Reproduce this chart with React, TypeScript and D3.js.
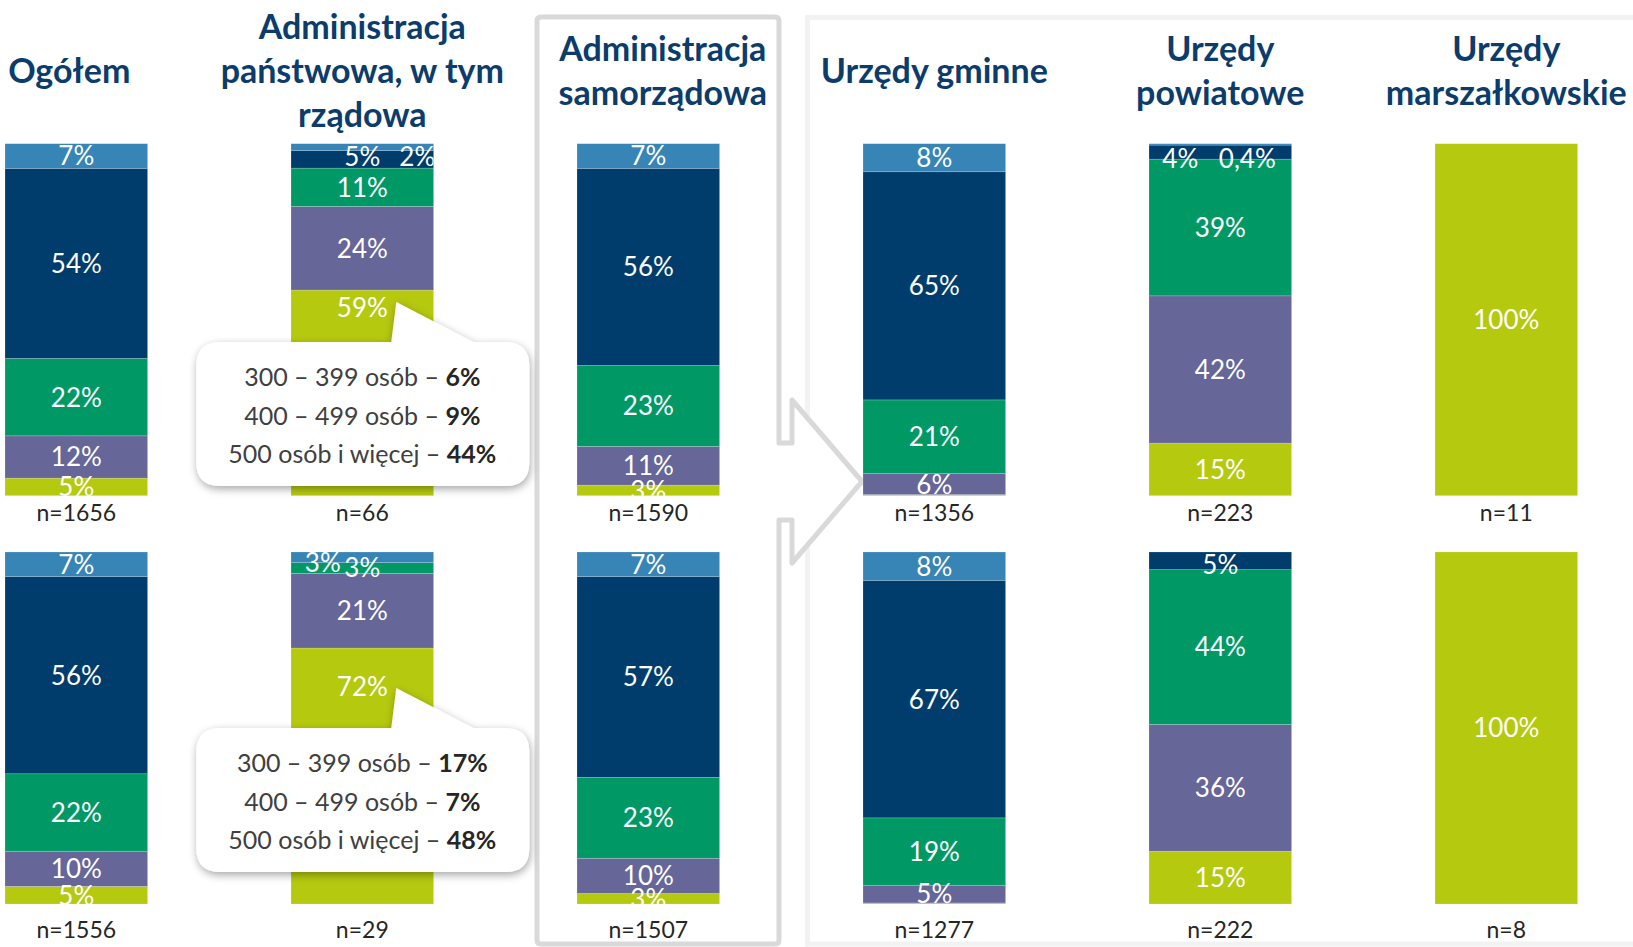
import * as d3 from "d3"

// column titles (one entry per line)
const titles = [
  ["Ogółem"],
  ["Administracja", "państwowa, w tym", "rządowa"],
  ["Administracja", "samorządowa"],
  ["Urzędy gminne"],
  ["Urzędy", "powiatowe"],
  ["Urzędy", "marszałkowskie"],
]

// upper row of bars (%)
const topLightBlue = [7, 2, 7, 8, 0.4, 0]
const topNavy = [54, 5, 56, 65, 4, 0]
const topGreen = [22, 11, 23, 21, 39, 0]
const topPurple = [12, 24, 11, 6, 42, 0]
const topLime = [5, 59, 3, 0.3, 15, 100]
const topN = [1656, 66, 1590, 1356, 223, 11]

// lower row of bars (%)
const botLightBlue = [7, 3, 7, 8, 0, 0]
const botNavy = [56, 0, 57, 67, 5, 0]
const botGreen = [22, 3, 23, 19, 44, 0]
const botPurple = [10, 21, 10, 5, 36, 0]
const botLime = [5, 72, 3, 0.3, 15, 100]
const botN = [1556, 29, 1507, 1277, 222, 8]

// callouts next to "Administracja państwowa"
const calloutTop = [
  ["300 – 399 osób – ", "6%"],
  ["400 – 499 osób – ", "9%"],
  ["500 osób i więcej – ", "44%"],
]
const calloutBottom = [
  ["300 – 399 osób – ", "17%"],
  ["400 – 499 osób – ", "7%"],
  ["500 osób i więcej – ", "48%"],
]

const keys = ["lime", "purple", "green", "navy", "lightBlue"]
const colors: Record<string, string> = {
  lightBlue: "#3784b6",
  navy: "#003d6c",
  green: "#009966",
  purple: "#666699",
  lime: "#b5c90f",
}

// manual label offsets (row-col-key)
const nudges: Record<string, [number, number]> = {
  "0-1-lightBlue": [55, 9.5],
  "0-1-navy": [0, -3],
  "0-1-lime": [0, -85],
  "0-4-navy": [-40, 6],
  "0-4-lightBlue": [27, 14],
  "1-1-lightBlue": [-39.5, 5],
  "1-1-lime": [0, -89],
  "1-4-navy": [0, 4],
}

const rows = [
  { lightBlue: topLightBlue, navy: topNavy, green: topGreen, purple: topPurple, lime: topLime, n: topN },
  { lightBlue: botLightBlue, navy: botNavy, green: botGreen, purple: botPurple, lime: botLime, n: botN },
]

const fmt = (v: number) => `${String(v).replace(".", ",")}%`

const font = "Lato, 'Open Sans', sans-serif"
const titleColor = "#0b3c6b"

function Callout({ cx, top, lines }: { cx: number; top: number; lines: string[][] }) {
  const L = cx - 166, R = cx + 167, T = top, B = top + 144, r = 24
  const tipX = cx + 34, tipY = top - 40
  const d = `M${L + r},${T} H${cx + 29} L${tipX},${tipY} L${cx + 111},${T} H${R - r} Q${R},${T} ${R},${T + r}
    V${B - r} Q${R},${B} ${R - r},${B} H${L + r} Q${L},${B} ${L},${B - r} V${T + r} Q${L},${T} ${L + r},${T} Z`
  return (
    <g>
      <path d={d} fill="#fff" filter="url(#shadow)" />
      {lines.map((ln, i) => (
        <text key={i} x={cx} y={top + 35 + i * 38.5 + 9} textAnchor="middle" fontSize={25} fill="#404040" fontFamily={font}>
          {ln[0]}
          <tspan fontWeight="bold" fill="#262626">{ln[1]}</tspan>
        </text>
      ))}
    </g>
  )
}

export default function App() {
  const width = 1633
  const height = 947
  const barH = 352
  const rowTops = [143.7, 552]
  const nY = [520.7, 938.3]

  const x = d3.scaleBand<number>().domain(d3.range(titles.length)).range([5, 1577.6]).paddingInner(0.5014).paddingOuter(0)
  const bw = x.bandwidth()
  const cx = (i: number) => (x(i) as number) + bw / 2

  const stack = d3.stack<any>().keys(keys).offset(d3.stackOffsetExpand)

  // panel frames
  const P1 = { L: 537, R: 779, T: 17, B: 944, r: 4 }
  const p1 = `M${P1.L + P1.r},${P1.T} H${P1.R - P1.r} Q${P1.R},${P1.T} ${P1.R},${P1.T + P1.r}
    V443 H792 V400 L862,481.5 L792,563 V520 H${P1.R}
    V${P1.B - P1.r} Q${P1.R},${P1.B} ${P1.R - P1.r},${P1.B} H${P1.L + P1.r} Q${P1.L},${P1.B} ${P1.L},${P1.B - P1.r}
    V${P1.T + P1.r} Q${P1.L},${P1.T} ${P1.L + P1.r},${P1.T} Z`

  const titleDx = [-7, 0, 14.5, 0, 0, 0]

  return (
    <svg width={width} height={height} style={{ position: "absolute", left: 0, top: 0, background: "#fff" }} fontFamily={font}>
      <defs>
        <filter id="shadow" x="-20%" y="-30%" width="140%" height="160%">
          <feDropShadow dx="1" dy="3" stdDeviation="4" floodColor="#000" floodOpacity="0.35" />
        </filter>
        {rows.map((_, r) =>
          titles.map((_, i) => (
            <clipPath key={`c${r}-${i}`} id={`clip-${r}-${i}`}>
              <rect x={x(i)} y={rowTops[r]} width={bw} height={barH} />
            </clipPath>
          ))
        )}
      </defs>

      <rect x={807.5} y={17.5} width={840} height={926.5} fill="none" stroke="#f2f2f2" strokeWidth={5} />
      <path d={p1} fill="#fff" stroke="#d9d9d9" strokeWidth={5} strokeLinejoin="round" />

      {titles.map((lines, i) => {
        const base = lines.length === 1 ? [83] : lines.length === 2 ? [61, 105] : [39, 83, 127]
        return lines.map((ln, j) => (
          <text key={`t${i}-${j}`} x={cx(i) + titleDx[i]} y={base[j]} textAnchor="middle" fontSize={34} fontWeight="bold" fill={titleColor}>
            {ln}
          </text>
        ))
      })}

      {rows.map((row, r) => {
        const table = titles.map((_, i) => {
          const o: any = {}
          keys.forEach((k) => (o[k] = (row as any)[k][i]))
          return o
        })
        const series = stack(table)
        const y = d3.scaleLinear().domain([0, 1]).range([rowTops[r] + barH, rowTops[r]])
        return (
          <g key={`row${r}`}>
            {series.map((s) =>
              s.map((d, i) => (
                <rect key={`${s.key}-${i}`} x={x(i)} y={y(d[1])} width={bw} height={Math.max(0, y(d[0]) - y(d[1]))}
                  fill={colors[s.key]} stroke="#fff" strokeOpacity={0.3} strokeWidth={0.6} />
              ))
            )}
            {series.map((s) =>
              s.map((d, i) => {
                const v = table[i][s.key]
                if (!v || v < 0.35) return null
                const nd = nudges[`${r}-${i}-${s.key}`] || [0, 0]
                return (
                  <text key={`l${s.key}-${i}`} clipPath={`url(#clip-${r}-${i})`} x={cx(i) + nd[0]}
                    y={(y(d[0]) + y(d[1])) / 2 + nd[1] + 9.4} textAnchor="middle" fontSize={26} fill="#fff">
                    {fmt(v)}
                  </text>
                )
              })
            )}
            {row.n.map((n, i) => (
              <text key={`n${i}`} x={cx(i)} y={nY[r]} textAnchor="middle" fontSize={23} fill="#262626">
                n={n}
              </text>
            ))}
          </g>
        )
      })}

      <Callout cx={cx(1)} top={342} lines={calloutTop} />
      <Callout cx={cx(1)} top={728} lines={calloutBottom} />
    </svg>
  )
}
